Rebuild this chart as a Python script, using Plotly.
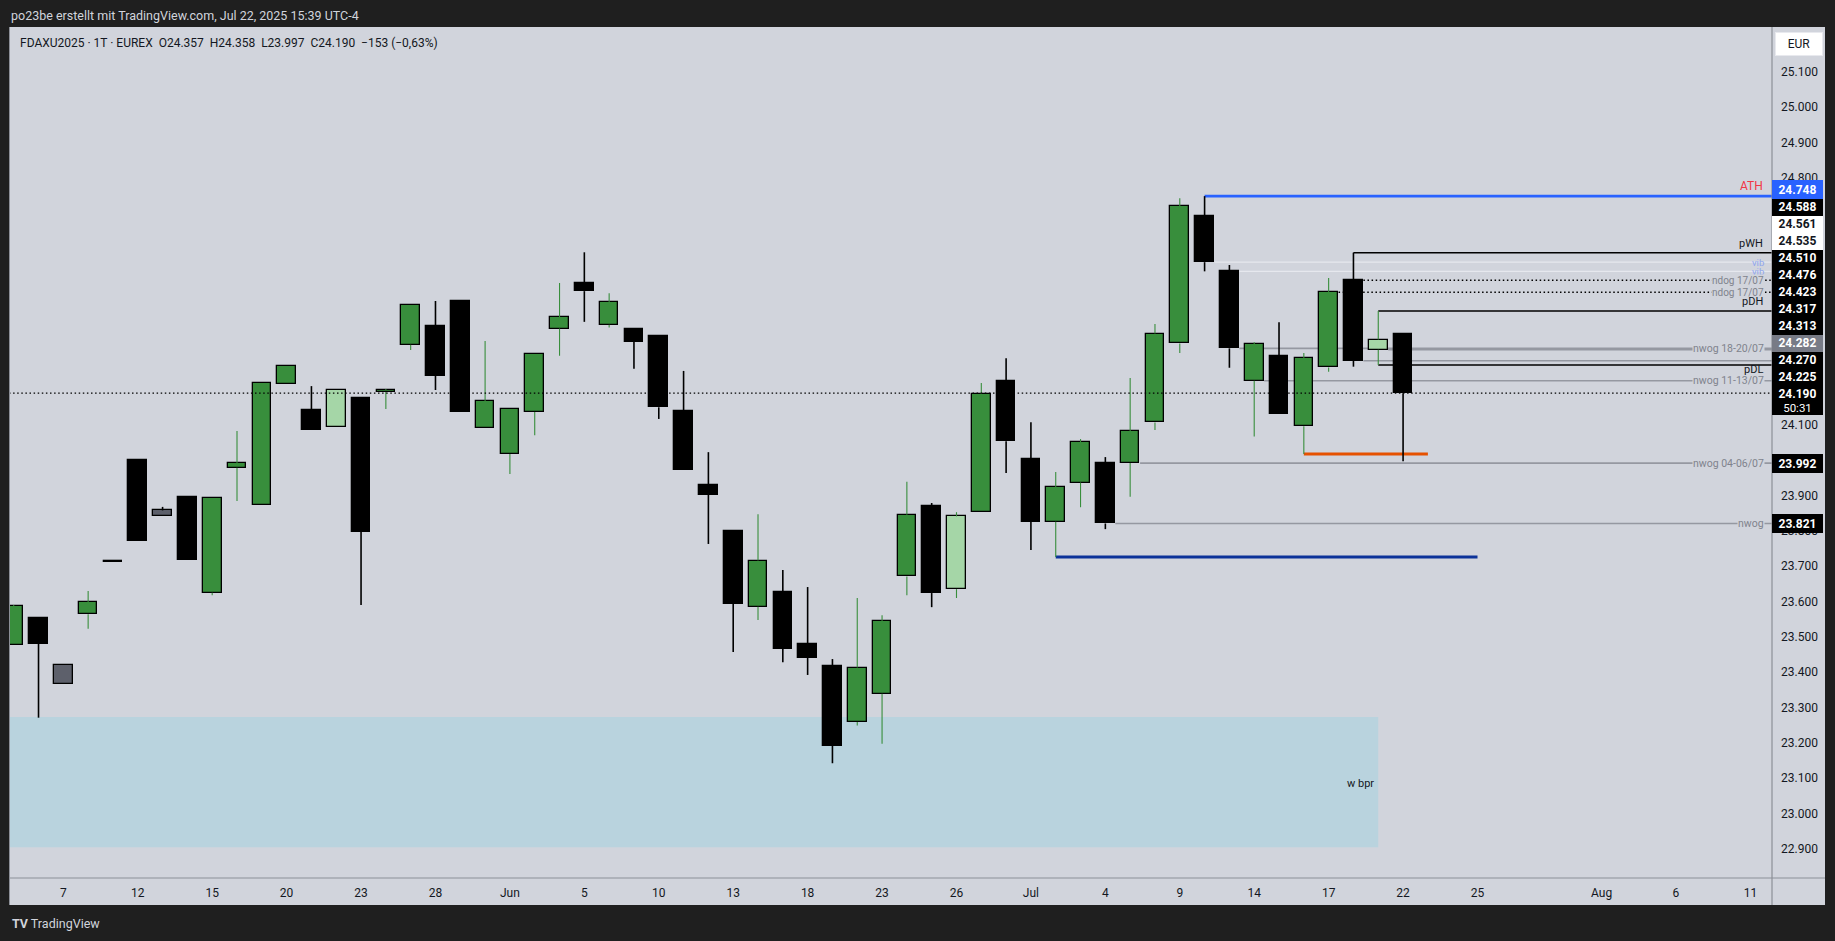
import plotly.graph_objects as go

# ---------------- data ----------------
DATES = ["May 5", "May 6", "May 7", "May 8", "May 9", "May 12", "May 13", "May 14", "May 15", "May 16",
         "May 19", "May 20", "May 21", "May 22", "May 23", "May 26", "May 27", "May 28", "May 29", "May 30",
         "Jun 2", "Jun 3", "Jun 4", "Jun 5", "Jun 6", "Jun 9", "Jun 10", "Jun 11", "Jun 12", "Jun 13",
         "Jun 16", "Jun 17", "Jun 18", "Jun 19", "Jun 20", "Jun 23", "Jun 24", "Jun 25", "Jun 26", "Jun 27",
         "Jun 30", "Jul 1", "Jul 2", "Jul 3", "Jul 4", "Jul 7", "Jul 8", "Jul 9", "Jul 10", "Jul 11",
         "Jul 14", "Jul 15", "Jul 16", "Jul 17", "Jul 18", "Jul 21", "Jul 22"]
OPEN = [23478, 23553, 23419, 23564, 23711, 24001, 23858, 23896, 23625, 23979,
        23874, 24217, 24142, 24095, 24176, 24193, 24327, 24380, 24451, 24092,
        24018, 24137, 24373, 24502, 24384, 24372, 24352, 24139, 23930, 23800,
        23585, 23627, 23480, 23417, 23259, 23339, 23671, 23870, 23635, 23854,
        24225, 24003, 23826, 23937, 23992, 23992, 24107, 24331, 24691, 24535,
        24225, 24295, 24096, 24263, 24510, 24313, 24357]
HIGH = [23590, 23553, 23419, 23630, 23711, 24001, 23868, 23896, 23893, 24083,
        24218, 24267, 24210, 24198, 24176, 24202, 24439, 24451, 24451, 24338,
        24144, 24300, 24502, 24589, 24473, 24372, 24352, 24253, 24023, 23800,
        23847, 23689, 23641, 23437, 23610, 23561, 23939, 23879, 23853, 24219,
        24289, 24108, 23967, 24060, 24009, 24233, 24386, 24742, 24748, 24553,
        24334, 24391, 24304, 24516, 24588, 24423, 24358]
LOW = [23478, 23271, 23366, 23523, 23711, 23772, 23843, 23717, 23618, 23885,
       23874, 24217, 24086, 24095, 23590, 24145, 24312, 24199, 24136, 24092,
       23961, 24071, 24296, 24392, 24376, 24259, 24117, 23973, 23763, 23457,
       23548, 23428, 23392, 23142, 23249, 23197, 23618, 23584, 23610, 23854,
       23964, 23746, 23726, 23867, 23805, 23897, 24086, 24304, 24535, 24262,
       24067, 24132, 24018, 24251, 24265, 24270, 23997]
CLOSE = [23587, 23480, 23366, 23598, 23711, 23772, 23843, 23717, 23893, 23991,
         24218, 24267, 24086, 24198, 23797, 24199, 24439, 24239, 24136, 24167,
         24144, 24300, 24405, 24479, 24447, 24335, 24150, 23973, 23902, 23593,
         23716, 23466, 23440, 23191, 23413, 23544, 23846, 23624, 23841, 24187,
         24054, 23826, 23923, 24051, 23821, 24082, 24359, 24719, 24561, 24317,
         24328, 24132, 24289, 24476, 24282, 24342, 24190]
# candle colouring class: g = up, b = down, lg = bullish inside, gr = bearish inside
KIND = ["g", "b", "gr", "g", "b", "b", "gr", "b", "g", "g",
        "g", "g", "b", "lg", "b", "g", "g", "b", "b", "g",
        "g", "g", "g", "b", "g", "b", "b", "b", "b", "b",
        "g", "b", "b", "b", "g", "g", "g", "b", "lg", "g",
        "b", "b", "g", "g", "b", "g", "g", "g", "b", "b",
        "g", "b", "g", "g", "b", "lg", "b"]

TICK_POS = [2, 5, 8, 11, 14, 17, 20, 23, 26, 29, 32, 35, 38, 41, 44, 47, 50, 53, 56, 59, 64, 67, 70]
TICK_TEXT = ["7", "12", "15", "20", "23", "28", "Jun", "5", "10", "13", "18", "23", "26", "Jul",
             "4", "9", "14", "17", "22", "25", "Aug", "6", "11"]
PRICE_TICKS = [22900, 23000, 23100, 23200, 23300, 23400, 23500, 23600, 23700, 23800, 23900,
               24000, 24100, 24200, 24300, 24400, 24500, 24600, 24700, 24800, 24900, 25000, 25100]

# horizontal levels: price, start bar, label, style key
LEVEL_PRICE = [24748, 24588, 24561, 24535, 24510, 24476, 24423, 24317, 24313, 24282, 24225, 23992, 23821, 24270]
LEVEL_START = [48, 54, 48.4, 49.4, 54.4, 53.4, 55, 49.4, 55.4, 54.4, 50.4, 45.4, 44.4, 55]
LEVEL_LABEL = ["ATH", "pWH", "vib", "vib", "ndog 17/07", "ndog 17/07", "pDH", "nwog 18-20/07", "", "",
               "nwog 11-13/07", "nwog 04-06/07", "nwog", "pDL"]
LEVEL_KIND = ["ath", "pw", "vib", "vib", "ndog", "ndog", "pw", "nwog", "nwog", "nwog", "nwog", "nwog", "nwog", "pl"]

ORANGE_LEVEL = (24018, 52, 57)
BLUE_LEVEL = (23726, 42, 59)
BPR_ZONE = (22904, 23273, 55)
LAST_PRICE = 24190
COUNTDOWN = "50:31"

# price-axis tags
TAG_PRICE = [24748, 24588, 24561, 24535, 24510, 24476, 24423, 24317, 24313, 24282, 24270, 24225, 23992, 23821]
TAG_KIND = ["blue", "blk", "wht", "wht", "blk", "blk", "blk", "blk", "blk", "grey", "blk", "blk", "blk", "blk"]

# ---------------- layout constants ----------------
W, H = 1835, 941
ML, MR, MT, MB = 9, 63, 27, 63
PLOT_W = W - ML - MR
PLOT_H = H - MT - MB
X_MIN, X_MAX = -0.19, 70.87
Y_MIN, Y_MAX = 22817, 25227
BG = "#d1d4dc"
DARK = "#1f1f1f"
FONT = "Roboto"

COL = {"g": "#388e3c", "b": "#000000", "lg": "#a5d6a7", "gr": "#5d606b"}
WICK = {"g": "#388e3c", "b": "#000000", "lg": "#388e3c", "gr": "#000000"}
WICK_W = {"g": 1.1, "b": 1.6, "lg": 1.1, "gr": 1.6}

fig = go.Figure()

n = len(OPEN)
idx = list(range(n))

# wicks (upper and lower segments so they do not cross bodies)
for k in COL:
    xs, ys = [], []
    for i in idx:
        if KIND[i] != k:
            continue
        top = max(OPEN[i], CLOSE[i])
        bot = min(OPEN[i], CLOSE[i])
        if HIGH[i] > top:
            xs += [i, i, None]
            ys += [top, HIGH[i], None]
        if LOW[i] < bot:
            xs += [i, i, None]
            ys += [LOW[i], bot, None]
    if xs:
        fig.add_trace(go.Scatter(x=xs, y=ys, mode="lines",
                                 line=dict(color=WICK[k], width=WICK_W[k]),
                                 hoverinfo="skip", showlegend=False))

# bodies
for k in COL:
    xs = [i for i in idx if KIND[i] == k]
    if not xs:
        continue
    base = [min(OPEN[i], CLOSE[i]) for i in xs]
    hgt = [max(abs(CLOSE[i] - OPEN[i]), 3) for i in xs]
    fig.add_trace(go.Bar(x=xs, y=hgt, base=base, width=0.75,
                         marker=dict(color=COL[k], line=dict(color="#000000", width=1.3)),
                         hoverinfo="skip", showlegend=False))

shapes = []
# w bpr zone
shapes.append(dict(type="rect", xref="x", yref="y", x0=X_MIN - 1, x1=BPR_ZONE[2],
                   y0=BPR_ZONE[0], y1=BPR_ZONE[1], fillcolor="#b9d3de",
                   line=dict(width=0), layer="below"))

LSTYLE = {
    "ath": dict(color="#2962ff", width=2.6),
    "pw": dict(color="#000000", width=1.5),
    "pl": dict(color="#000000", width=1.5),
    "vib": dict(color="#e6e8ee", width=1.3),
    "ndog": dict(color="#000000", width=1.4, dash="1.5px,2.6px"),
    "nwog": dict(color="#9598a1", width=1.6),
}
for p, s, kd in zip(LEVEL_PRICE, LEVEL_START, LEVEL_KIND):
    shapes.append(dict(type="line", xref="x", yref="y", x0=s, x1=X_MAX, y0=p, y1=p,
                       line=LSTYLE[kd], layer="below"))

shapes.append(dict(type="line", xref="x", yref="y", x0=ORANGE_LEVEL[1], x1=ORANGE_LEVEL[2],
                   y0=ORANGE_LEVEL[0], y1=ORANGE_LEVEL[0], line=dict(color="#e65100", width=3), layer="below"))
shapes.append(dict(type="line", xref="x", yref="y", x0=BLUE_LEVEL[1], x1=BLUE_LEVEL[2],
                   y0=BLUE_LEVEL[0], y1=BLUE_LEVEL[0], line=dict(color="#0c3299", width=2.8), layer="below"))
# last price dotted line
shapes.append(dict(type="line", xref="x", yref="y", x0=X_MIN, x1=X_MAX, y0=LAST_PRICE, y1=LAST_PRICE,
                   line=dict(color="#000000", width=1.3, dash="1.5px,2.6px"), layer="above"))


def px2paper_x(px):
    return (px - ML) / PLOT_W


def px2paper_y(py):
    return (H - MB - py) / PLOT_H


# dark frame
frame = [(0, W, 0, MT), (0, W, 905, H), (0, ML, 0, H), (1825, W, 0, H)]
for x0, x1, y0, y1 in frame:
    shapes.append(dict(type="rect", xref="paper", yref="paper",
                       x0=px2paper_x(x0), x1=px2paper_x(x1), y0=px2paper_y(y1), y1=px2paper_y(y0),
                       fillcolor=DARK, line=dict(width=0), layer="above"))
# dividers
shapes.append(dict(type="line", xref="paper", yref="paper", x0=0, x1=px2paper_x(1825),
                   y0=0, y1=0, line=dict(color="#8c8f97", width=1.2), layer="above"))
shapes.append(dict(type="line", xref="paper", yref="paper", x0=1, x1=1,
                   y0=px2paper_y(905), y1=px2paper_y(MT), line=dict(color="#8c8f97", width=1.2), layer="above"))
shapes.append(dict(type="line", xref="paper", yref="paper", x0=px2paper_x(9.5), x1=px2paper_x(9.5),
                   y0=px2paper_y(905), y1=px2paper_y(MT), line=dict(color="#8c8f97", width=1), layer="above"))

annotations = []

# level labels
LTXT = {
    "ath": dict(color="#f23645", size=12, yshift=10, bg=None, pad=1),
    "pw": dict(color="#131722", size=11, yshift=9, bg=None, pad=1),
    "pl": dict(color="#131722", size=11, yshift=-5, bg=None, pad=1),
    "vib": dict(color="#8fa5ee", size=9.5, yshift=0, bg=None, pad=0),
    "ndog": dict(color="#80838d", size=10, yshift=0, bg=BG, pad=0),
    "nwog": dict(color="#80838d", size=10.5, yshift=0, bg=BG, pad=0),
}
for p, lab, kd in zip(LEVEL_PRICE, LEVEL_LABEL, LEVEL_KIND):
    if not lab:
        continue
    st = LTXT[kd]
    a = dict(xref="paper", yref="y", x=px2paper_x(1765), y=p, xanchor="right", yanchor="middle",
             text=lab, showarrow=False, yshift=st["yshift"],
             font=dict(family=FONT, size=st["size"], color=st["color"]), borderpad=st["pad"])
    if st["bg"]:
        a["bgcolor"] = st["bg"]
    annotations.append(a)

annotations.append(dict(xref="x", yref="y", x=BPR_ZONE[2], y=(BPR_ZONE[0] + BPR_ZONE[1]) / 2 - 5,
                        xanchor="right", yanchor="middle", xshift=-2, text="w bpr", showarrow=False,
                        font=dict(family=FONT, size=11, color="#131722")))

# price axis tags with TradingView-like stacking around the last price tag
PX_PER_PT = PLOT_H / (Y_MAX - Y_MIN)


def to_px(p):
    return MT + (Y_MAX - p) * PX_PER_PT


def to_price(py):
    return Y_MAX - (py - MT) / PX_PER_PT


TAG_H = 17
TAG_BG = {"blue": ("#2962ff", "#ffffff"), "blk": ("#000000", "#ffffff"),
          "wht": ("#ffffff", "#131722"), "grey": ("#787b86", "#ffffff")}
tag_boxes = []


def tag(center_px, text, kind, size=12, bold=True, h=TAG_H):
    bg, fg = TAG_BG[kind]
    t = "<b>%s</b>" % text if bold else text
    tag_boxes.append((center_px - h / 2, center_px + h / 2))
    annotations.append(dict(xref="paper", yref="y", x=1.0, y=to_price(center_px), xanchor="left",
                            yanchor="middle", text=t, showarrow=False, width=45, height=h - 4,
                            borderpad=2, bgcolor=bg, bordercolor=bg, align="center",
                            font=dict(family=FONT, size=size, color=fg)))


def fmt(p):
    return "{:,}".format(int(p)).replace(",", ".")


last_px = to_px(LAST_PRICE)
tag(last_px, fmt(LAST_PRICE), "blk")
tag(last_px + 14.5, COUNTDOWN, "blk", size=11.5, bold=False, h=13)
above = sorted([(p, k) for p, k in zip(TAG_PRICE, TAG_KIND) if p > LAST_PRICE], key=lambda t: t[0])
prev_top = last_px - TAG_H / 2
for p, k in above:
    c = min(to_px(p), prev_top - TAG_H / 2)
    tag(c, fmt(p), k)
    prev_top = c - TAG_H / 2
below = sorted([(p, k) for p, k in zip(TAG_PRICE, TAG_KIND) if p < LAST_PRICE], key=lambda t: -t[0])
prev_bot = last_px + 21
for p, k in below:
    c = max(to_px(p), prev_bot + TAG_H / 2)
    tag(c, fmt(p), k)
    prev_bot = c + TAG_H / 2


# price ticks that end up fully covered by tags are not drawn (as on the reference)
def covered(v):
    a, b = to_px(v) - 6, to_px(v) + 6
    ov = 0
    for lo, hi in tag_boxes:
        ov += max(0, min(b, hi) - max(a, lo))
    return ov > 8


shown_ticks = [v for v in PRICE_TICKS if not covered(v)]

# EUR box
annotations.append(dict(xref="paper", yref="paper", x=px2paper_x(1775), y=px2paper_y(44), xanchor="left",
                        yanchor="middle", text="EUR", showarrow=False, width=42, height=18, borderpad=2,
                        bgcolor="#ffffff", bordercolor="#e8e9ee",
                        font=dict(family=FONT, size=12, color="#131722")))

NB = "\u00a0"
title = ("FDAXU2025 · 1T · EUREX" + NB * 2 + "O24.357" + NB * 2 + "H24.358" + NB * 2 + "L23.997" + NB * 2 +
         "C24.190" + NB * 2 + "\u2212153 (\u22120,63%)")
annotations.append(dict(xref="paper", yref="paper", x=px2paper_x(18), y=px2paper_y(43), xanchor="left",
                        yanchor="middle", text=title, showarrow=False,
                        font=dict(family=FONT, size=12, color="#131722")))
annotations.append(dict(xref="paper", yref="paper", x=px2paper_x(9), y=px2paper_y(15), xanchor="left",
                        yanchor="middle", text="po23be erstellt mit TradingView.com, Jul 22, 2025 15:39 UTC-4",
                        showarrow=False, font=dict(family=FONT, size=12.5, color="#d1d4dc")))
annotations.append(dict(xref="paper", yref="paper", x=px2paper_x(10), y=px2paper_y(923), xanchor="left",
                        yanchor="middle", text="<b>TV</b> TradingView",
                        showarrow=False, font=dict(family=FONT, size=12.5, color="#d1d4dc")))

fig.update_layout(
    width=W, height=H,
    margin=dict(l=ML, r=MR, t=MT, b=MB, pad=0),
    paper_bgcolor=BG, plot_bgcolor=BG,
    barmode="overlay", bargap=0,
    showlegend=False,
    shapes=shapes, annotations=annotations,
    font=dict(family=FONT, color="#131722"),
    xaxis=dict(range=[X_MIN, X_MAX], showgrid=False, zeroline=False, showline=False,
               tickmode="array", tickvals=TICK_POS, ticktext=TICK_TEXT, ticks="",
               tickfont=dict(family=FONT, size=12, color="#131722"), ticklabelstandoff=6,
               fixedrange=True),
    yaxis=dict(range=[Y_MIN, Y_MAX], side="right", showgrid=False, zeroline=False, showline=False,
               tickmode="array", tickvals=shown_ticks, ticktext=[fmt(v) for v in shown_ticks], ticks="",
               tickfont=dict(family=FONT, size=12, color="#131722"), ticklabelstandoff=8,
               fixedrange=True),
)

fig.write_html(
    "out.html",
    config={"displayModeBar": False},
    post_script="document.body.style.margin='0';document.body.style.background='%s';"
                "document.body.style.overflow='hidden';" % DARK,
)
